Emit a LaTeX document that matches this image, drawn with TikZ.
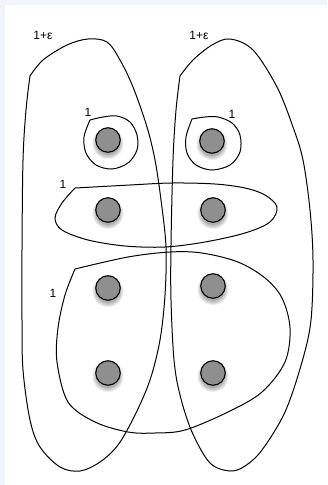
\documentclass[tikz,border=0pt]{standalone}
\usepackage{fontspec}
\setmainfont{Liberation Sans}
\definecolor{bgblue}{RGB}{240,244,253}
\definecolor{dotgray}{RGB}{143,143,143}
\tikzset{
  curve/.style={draw=black, line width=1pt, smooth, tension=0.55},
  dot/.style={circle, draw=black, line width=1.1pt, fill=dotgray, minimum size=24.5pt, inner sep=0pt},
  shade piece/.style={fill=black, opacity=0.07},
  lbl/.style={font=\fontsize{12}{14}\selectfont, inner sep=0pt}
}
\begin{document}
\begin{tikzpicture}[x=1pt,y=-1pt]
\useasboundingbox (0,0) rectangle (327,485);
\fill[bgblue] (0,0) rectangle (327,485);
\fill[white] (5,5) rectangle (327,485);
% big left set
\draw[curve] plot coordinates {(30,76) (43,60) (67,45) (88,39) (107,42) (120,60) (133,87) (147,127) (155,160) (161,200) (166,247) (165,295) (160,340) (150,380) (135,415) (118,445) (100,462) (80,471) (60,467) (40,447) (30,420) (23,370) (22,320) (22,250) (23,160) (26,110) (30,76)};
% big right set
\draw[curve] plot coordinates {(180,76) (193,60) (212,45) (230,39) (253,50) (277,87) (293,127) (303,160) (310,210) (313,260) (311,320) (302,362) (285,412) (262,450) (245,466) (230,471) (210,463) (192,432) (180,395) (174,360) (171,300) (171,245) (173,160) (176,110) (180,76)};
% small top-left
\draw[curve] plot coordinates {(90,120) (103,117) (117,116) (130,122) (137,135) (137,150) (128,163) (112,169) (96,165) (86,153) (84,137) (90,120)};
% small top-right
\draw[curve] plot coordinates {(192,119) (205,117) (218,117) (232,123) (240,135) (240,152) (230,165) (212,170) (196,165) (187,153) (186,137) (192,119)};
% middle horizontal
\draw[curve] plot coordinates {(75,188) (130,185) (172,183) (215,184) (245,188) (265,195) (277,207) (270,222) (245,233) (205,242) (165,247) (125,246) (88,240) (62,230) (55,218) (62,203) (75,188)};
% bottom loop
\draw[curve] plot coordinates {(75,269) (128,257) (170,252) (202,253) (238,262) (265,278) (282,298) (290,328) (285,362) (262,392) (228,412) (185,430) (155,433) (128,432) (95,422) (68,402) (57,362) (58,328) (65,295) (75,269)};
% soft shadows under the dots
\foreach \p in {(108,140),(212,141),(108,210),(213,210),(108,288),(213,286),(108,373),(213,373)} {
  \foreach \r in {15.5,14.5,13.5,12.5,11.5} {
    \fill[shade piece] \p ++(0,3.5) circle (\r);
  }
}
% dots
\node[dot] (d11) at (108,140) {};
\node[dot] (d12) at (212,141) {};
\node[dot] (d21) at (108,210) {};
\node[dot] (d22) at (213,210) {};
\node[dot] (d31) at (108,288) {};
\node[dot] (d32) at (213,286) {};
\node[dot] (d41) at (108,373) {};
\node[dot] (d42) at (213,373) {};
% labels
\node[lbl] (l1) at (43,35) {1+ε};
\node[lbl] (l2) at (199,35) {1+ε};
\node[lbl] (l3) at (88,112) {1};
\node[lbl] (l4) at (232,114) {1};
\node[lbl] (l5) at (63,184) {1};
\node[lbl] (l6) at (53,293) {1};
\end{tikzpicture}
\end{document}
